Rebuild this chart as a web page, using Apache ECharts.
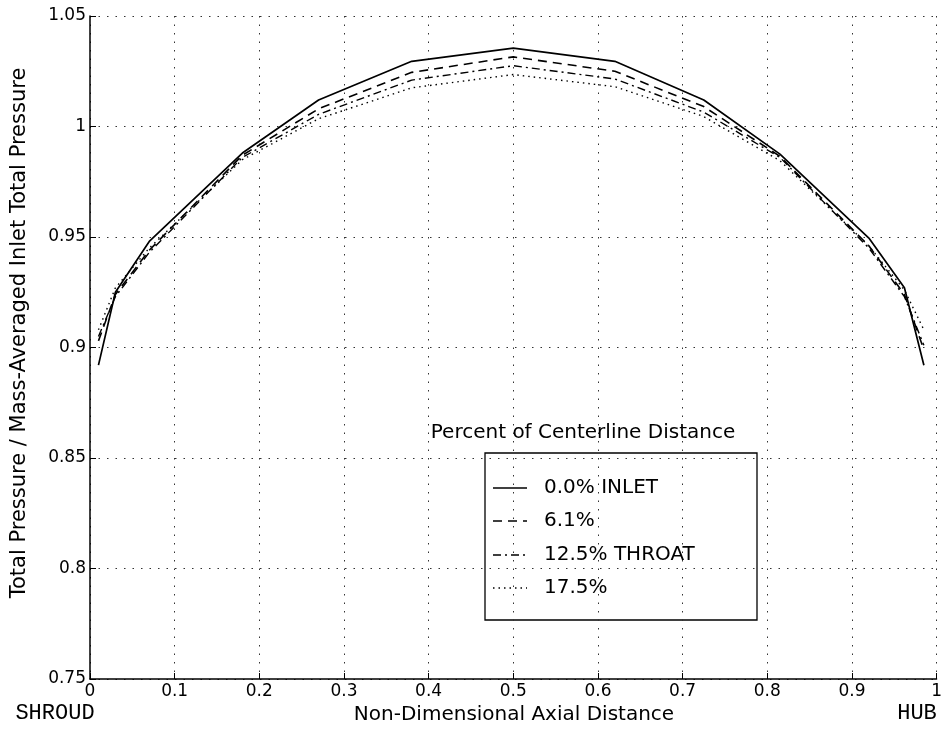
<!DOCTYPE html>
<html>
<head>
<meta charset="utf-8">
<title>Total Pressure Profiles</title>
<script src="https://cdn.jsdelivr.net/npm/echarts@6/dist/echarts.min.js"></script>
<style>
  html, body { margin: 0; padding: 0; background: #fff; }
  #chart { width: 945px; height: 729px; }
</style>
</head>
<body>
<div id="chart"></div>
<script>
// Axial stations (0 = shroud, 1 = hub)
const axialPos = [0.01, 0.03, 0.07, 0.18, 0.27, 0.38, 0.5, 0.62, 0.725, 0.815, 0.92, 0.962, 0.985];

// Total pressure ratio at each station, by percent of centerline distance
const inlet00 = [0.892, 0.925, 0.948, 0.988, 1.012, 1.0295, 1.0355, 1.0295, 1.012, 0.9875, 0.9495, 0.927, 0.892];
const pct061  = [0.903, 0.924, 0.944, 0.987, 1.008, 1.0245, 1.0315, 1.025, 1.009, 0.9865, 0.946, 0.924, 0.899];
const throat125 = [0.905, 0.923, 0.943, 0.986, 1.0055, 1.021, 1.0275, 1.0215, 1.0065, 0.986, 0.945, 0.923, 0.901];
const pct175  = [0.908, 0.927, 0.945, 0.985, 1.0035, 1.0175, 1.0235, 1.018, 1.0045, 0.9845, 0.946, 0.926, 0.908];

const seriesNames = ['0.0% INLET', '6.1%', '12.5% THROAT', '17.5%'];

// Axis ticks
const xTicks = [0, 0.1, 0.2, 0.3, 0.4, 0.5, 0.6, 0.7, 0.8, 0.9, 1];
const yTicks = [0.75, 0.8, 0.85, 0.9, 0.95, 1, 1.05];

const SANS = '"DejaVu Sans", "Liberation Sans", Arial, sans-serif';
const MONO = '"Liberation Mono", "DejaVu Sans Mono", monospace';

const pairs = ys => axialPos.map((x, i) => [x, ys[i]]);

const lineTypes = [
  { type: 'solid', width: 1.7 },
  { type: [9, 6], width: 1.6 },
  { type: [8, 4, 2, 4], width: 1.4 },
  { type: [1.5, 4], width: 1.4 }
];

const chart = echarts.init(document.getElementById('chart'), null, { renderer: 'canvas' });

const gridLine = { show: true, lineStyle: { color: '#333', width: 1, type: [1.5, 7] } };

// Legend box: frame, sample strokes and labels
const legendBox = { x: 485, y: 453, w: 272, h: 167 };
const legendRowY = [488, 521, 555, 588];
const legendGraphics = [
  { type: 'rect', shape: { x: legendBox.x, y: legendBox.y, width: legendBox.w, height: legendBox.h },
    style: { fill: 'none', stroke: '#000', lineWidth: 1.3 }, silent: true }
];
seriesNames.forEach((name, i) => {
  legendGraphics.push({
    type: 'line', silent: true,
    shape: { x1: 493, y1: legendRowY[i], x2: 527, y2: legendRowY[i] },
    style: { stroke: '#000', lineWidth: lineTypes[i].width,
             lineDash: lineTypes[i].type === 'solid' ? null : lineTypes[i].type }
  });
  legendGraphics.push({
    type: 'text', x: 544, y: legendRowY[i],
    style: { text: name, fill: '#000', font: '20px ' + SANS, textAlign: 'left', textVerticalAlign: 'middle' }
  });
});

chart.setOption({
  animation: false,
  backgroundColor: '#fff',
  grid: { left: 90, right: 4, top: 16, bottom: 50, containLabel: false },
  xAxis: {
    type: 'value',
    min: xTicks[0],
    max: xTicks[xTicks.length - 1],
    interval: 0.1,
    axisLine: { show: true, onZero: false, lineStyle: { color: '#000', width: 1.5 } },
    axisTick: { show: true, inside: true, length: 6, lineStyle: { color: '#000' } },
    axisLabel: { color: '#000', fontFamily: SANS, fontSize: 17, margin: 4 },
    splitLine: gridLine
  },
  yAxis: {
    type: 'value',
    min: yTicks[0],
    max: yTicks[yTicks.length - 1],
    interval: 0.05,
    axisLine: { show: true, onZero: false, lineStyle: { color: '#000', width: 1.5 } },
    axisTick: { show: true, inside: true, length: 6, lineStyle: { color: '#000' } },
    axisLabel: { color: '#000', fontFamily: SANS, fontSize: 17, margin: 4 },
    splitLine: gridLine
  },
  graphic: legendGraphics.concat([
    { type: 'text', x: 583, y: 433,
      style: { text: 'Percent of Centerline Distance', fill: '#000', font: '20px ' + SANS,
               textAlign: 'center', textVerticalAlign: 'middle' } },
    { type: 'text', x: 514, y: 715,
      style: { text: 'Non-Dimensional Axial Distance', fill: '#000', font: '20px ' + SANS,
               textAlign: 'center', textVerticalAlign: 'middle' } },
    { type: 'text', x: 20, y: 333, rotation: Math.PI / 2,
      style: { text: 'Total Pressure / Mass-Averaged Inlet Total Pressure', fill: '#000', font: '21px ' + SANS,
               textAlign: 'center', textVerticalAlign: 'middle' } },
    { type: 'text', x: 55, y: 713,
      style: { text: 'SHROUD', fill: '#000', font: '22px ' + MONO,
               textAlign: 'center', textVerticalAlign: 'middle' } },
    { type: 'text', x: 917, y: 713,
      style: { text: 'HUB', fill: '#000', font: '22px ' + MONO,
               textAlign: 'center', textVerticalAlign: 'middle' } }
  ]),
  series: [inlet00, pct061, throat125, pct175].map((ys, i) => ({
    name: seriesNames[i],
    type: 'line',
    data: pairs(ys),
    symbol: 'none',
    smooth: false,
    lineStyle: { color: '#000', width: lineTypes[i].width, type: lineTypes[i].type },
    itemStyle: { color: '#000' },
    z: 5 - i
  }))
});
</script>
</body>
</html>
